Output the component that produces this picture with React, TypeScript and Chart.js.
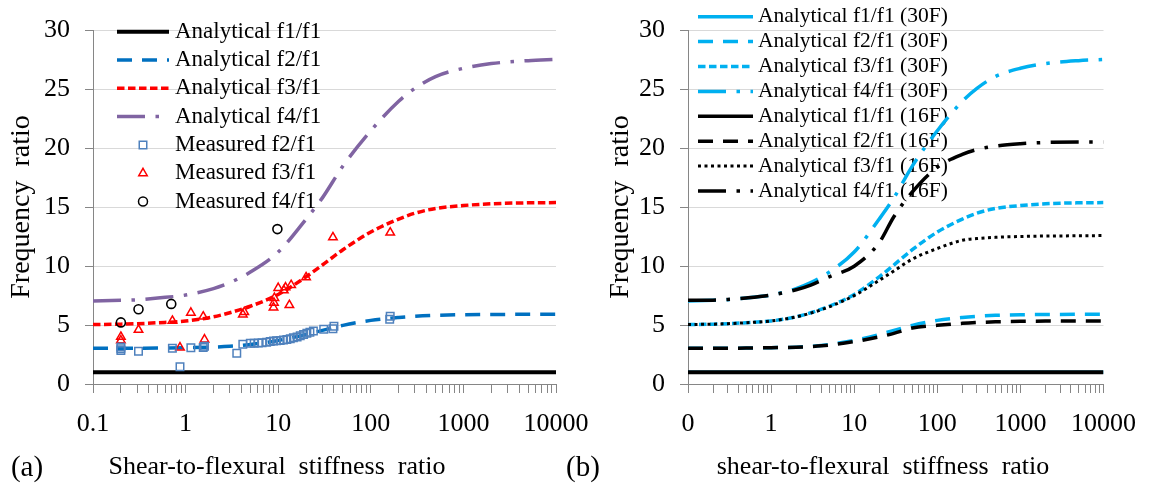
import React, { useEffect, useRef } from 'react';
import { Chart, registerables } from 'chart.js';

Chart.register(...registerables);

const FONT = "'Liberation Serif', 'Times New Roman', serif";

// x grid for the analytical curves (shear-to-flexural stiffness ratio)
const xGrid = [0.1, 0.2, 0.3, 0.5, 1, 2, 3, 5, 10, 20, 30, 50, 100, 200, 300, 500, 1000, 2000, 5000, 10000];

// Analytical curves (30F, also used in panel a)
const f1_30 = [1, 1, 1, 1, 1, 1, 1, 1, 1, 1, 1, 1, 1, 1, 1, 1, 1, 1, 1, 1];
const f2_30 = [3.03, 3.03, 3.04, 3.05, 3.08, 3.13, 3.2, 3.35, 3.7, 4.2, 4.55, 4.98, 5.4, 5.65, 5.75, 5.83, 5.88, 5.9, 5.92, 5.93];
const f3_30 = [5.05, 5.08, 5.12, 5.2, 5.35, 5.7, 6.05, 6.6, 7.6, 9.1, 10.1, 11.4, 12.9, 14.0, 14.5, 14.9, 15.15, 15.3, 15.38, 15.4];
const f4_30 = [7.05, 7.1, 7.15, 7.3, 7.55, 8.1, 8.6, 9.5, 11.2, 14.0, 15.8, 18.5, 21.5, 24.0, 25.1, 26.1, 26.8, 27.2, 27.45, 27.55];

// Analytical curves (16F)
const f1_16 = [1, 1, 1, 1, 1, 1, 1, 1, 1, 1, 1, 1, 1, 1, 1, 1, 1, 1, 1, 1];
const f2_16 = [3.03, 3.03, 3.04, 3.05, 3.08, 3.12, 3.18, 3.3, 3.6, 4.0, 4.3, 4.75, 4.98, 5.15, 5.22, 5.28, 5.32, 5.34, 5.35, 5.35];
const f3_16 = [5.05, 5.08, 5.12, 5.2, 5.35, 5.7, 6.02, 6.55, 7.5, 8.8, 9.6, 10.6, 11.5, 12.2, 12.35, 12.45, 12.52, 12.56, 12.58, 12.6];
const f4_16 = [7.1, 7.12, 7.18, 7.3, 7.55, 8.0, 8.4, 9.1, 10.0, 12.0, 14.2, 16.3, 18.4, 19.5, 19.9, 20.2, 20.4, 20.5, 20.55, 20.55];

// Measured points (panel a)
const m2X = [0.2, 0.2, 0.2, 0.31, 0.72, 0.87, 1.14, 1.55, 1.6, 3.57, 4.15, 5.0, 5.5, 6.1, 6.7, 7.5, 8.2, 8.9, 9.6, 10.5, 11.4, 12.4, 13.5, 14.6, 16, 17.3, 18.8, 20.4, 22, 24, 31, 39, 40, 160, 162];
const m2Y = [2.85, 3.0, 3.15, 2.79, 3.04, 1.47, 3.07, 3.1, 3.2, 2.6, 3.37, 3.45, 3.46, 3.48, 3.5, 3.55, 3.6, 3.64, 3.67, 3.7, 3.74, 3.78, 3.85, 3.92, 4.0, 4.1, 4.2, 4.3, 4.4, 4.5, 4.65, 4.7, 4.9, 5.5, 5.75];
const m3X = [0.2, 0.2, 0.31, 0.72, 0.87, 1.14, 1.55, 1.6, 4.15, 4.3, 8.9, 9.0, 9.1, 10.0, 11.5, 12.0, 13.2, 13.8, 20, 39, 162];
const m3Y = [4.0, 3.7, 4.6, 5.36, 3.1, 6.05, 5.72, 3.78, 5.9, 6.1, 6.5, 6.9, 7.3, 8.15, 7.95, 8.2, 6.7, 8.4, 9.05, 12.45, 12.85];
const m4X = [0.2, 0.31, 0.7, 9.8];
const m4Y = [5.23, 6.35, 6.8, 13.15];

// Axis ticks
const logTickValues = [
  0.1, 0.2, 0.3, 0.4, 0.5, 0.6, 0.7, 0.8, 0.9,
  1, 2, 3, 4, 5, 6, 7, 8, 9,
  10, 20, 30, 40, 50, 60, 70, 80, 90,
  100, 200, 300, 400, 500, 600, 700, 800, 900,
  1000, 2000, 3000, 4000, 5000, 6000, 7000, 8000, 9000,
  10000,
];
const majorTicks = [0.1, 1, 10, 100, 1000, 10000];
const leftTickLabels = ['0.1', '1', '10', '100', '1000', '10000'];
const rightTickLabels = ['0', '1', '10', '100', '1000', '10000'];

const legendLeft = ['Analytical f1/f1', 'Analytical f2/f1', 'Analytical f3/f1', 'Analytical f4/f1', 'Measured f2/f1', 'Measured f3/f1', 'Measured f4/f1'];
const legendRight = [
  'Analytical f1/f1 (30F)', 'Analytical f2/f1 (30F)', 'Analytical f3/f1 (30F)', 'Analytical f4/f1 (30F)',
  'Analytical f1/f1 (16F)', 'Analytical f2/f1 (16F)', 'Analytical f3/f1 (16F)', 'Analytical f4/f1 (16F)',
];

const BLACK = '#000000';
const BLUE = '#0070C0';
const RED = '#FF0000';
const PURPLE = '#8064A2';
const CYAN = '#00B0F0';
const MARK_BLUE = '#4F81BD';

const DASH = [15, 10];
const SHORT = [7.5, 3.5];
const DASHDOT = [28, 10.5, 3.5, 10.5];
const DOT = [3, 3.5];

const pts = (xs: number[], ys: number[]) => xs.map((x, i) => ({ x, y: ys[i] }));

type LegItem = { color: string; width: number; dash?: number[]; marker?: string };

function lineDs(label: string, ys: number[], color: string, width: number, dash: number[], order: number) {
  return {
    label,
    data: pts(xGrid, ys),
    borderColor: color,
    backgroundColor: color,
    borderWidth: width,
    borderDash: dash,
    pointRadius: 0,
    cubicInterpolationMode: 'monotone',
    fill: false,
    order,
  };
}

function markerDs(label: string, xs: number[], ys: number[], color: string, style: string, radius: number, bw: number) {
  return {
    label,
    data: pts(xs, ys),
    showLine: false,
    borderColor: color,
    backgroundColor: 'rgba(0,0,0,0)',
    pointStyle: style,
    pointRadius: radius,
    pointBorderWidth: bw,
    pointBorderColor: color,
    pointBackgroundColor: 'rgba(0,0,0,0)',
    order: 0,
  };
}

function drawMarker(ctx: CanvasRenderingContext2D, kind: string, x: number, y: number, color: string) {
  ctx.save();
  ctx.setLineDash([]);
  ctx.strokeStyle = color;
  ctx.lineWidth = 1.5;
  ctx.beginPath();
  if (kind === 'rect') {
    ctx.rect(x - 3.75, y - 3.75, 7.5, 7.5);
  } else if (kind === 'triangle') {
    const r = 4.9;
    ctx.moveTo(x, y - r);
    ctx.lineTo(x + r * 0.866, y + r / 2);
    ctx.lineTo(x - r * 0.866, y + r / 2);
    ctx.closePath();
  } else {
    ctx.arc(x, y, 4.5, 0, Math.PI * 2);
  }
  ctx.stroke();
  ctx.restore();
}

type Decor = {
  labels: string[];
  items: LegItem[];
  lx0: number; lx1: number; tx: number; ly0: number; ldy: number; lfont: number; mx: number;
  yTitleX: number; yTitleY: number;
  xTitle: string; xTitleX: number; xTitleY: number;
  panels: { text: string; x: number; y: number }[];
};

function makeDecorPlugin(d: Decor) {
  return {
    id: 'decor',
    beforeDatasetsDraw(chart: any) {
      const ctx: CanvasRenderingContext2D = chart.ctx;
      ctx.save();
      d.items.forEach((it, i) => {
        const y = d.ly0 + i * d.ldy;
        if (it.marker) {
          drawMarker(ctx, it.marker, d.mx, y, it.color);
        } else {
          ctx.beginPath();
          ctx.setLineDash(it.dash || []);
          ctx.lineDashOffset = 0;
          ctx.strokeStyle = it.color;
          ctx.lineWidth = it.width;
          ctx.lineCap = 'butt';
          ctx.moveTo(d.lx0, y);
          ctx.lineTo(d.lx1, y);
          ctx.stroke();
        }
        ctx.setLineDash([]);
        ctx.fillStyle = '#000';
        ctx.font = `${d.lfont}px ${FONT}`;
        ctx.textAlign = 'left';
        ctx.textBaseline = 'middle';
        ctx.fillText(d.labels[i], d.tx, y);
      });
      ctx.restore();
    },
    afterDraw(chart: any) {
      const ctx: CanvasRenderingContext2D = chart.ctx;
      ctx.save();
      ctx.fillStyle = '#000';
      ctx.textAlign = 'center';
      ctx.textBaseline = 'middle';
      ctx.font = `28px ${FONT}`;
      ctx.translate(d.yTitleX, d.yTitleY);
      ctx.rotate(-Math.PI / 2);
      ctx.fillText('Frequency  ratio', 0, 0);
      ctx.restore();
      ctx.save();
      ctx.fillStyle = '#000';
      ctx.textAlign = 'center';
      ctx.textBaseline = 'middle';
      ctx.font = `26px ${FONT}`;
      ctx.fillText(d.xTitle, d.xTitleX, d.xTitleY);
      ctx.font = `29px ${FONT}`;
      d.panels.forEach((p) => ctx.fillText(p.text, p.x, p.y));
      ctx.restore();
    },
  };
}

function makeOptions(yWidth: number, padRight: number, tickLabels: string[]) {
  return {
    responsive: false,
    animation: false,
    events: [],
    layout: { padding: { top: 22, right: padRight, left: 0, bottom: 0 } },
    plugins: { legend: { display: false }, tooltip: { enabled: false } },
    scales: {
      x: {
        type: 'logarithmic',
        min: 0.1,
        max: 10000,
        afterBuildTicks: (s: any) => {
          s.ticks = logTickValues.map((v) => ({ value: v }));
        },
        afterFit: (s: any) => {
          s.height = 487 - 384;
        },
        grid: { drawOnChartArea: false, drawTicks: true, tickLength: 9, tickColor: '#868686', tickWidth: 1 },
        border: { display: true, color: '#868686', width: 1 },
        ticks: {
          autoSkip: false,
          maxRotation: 0,
          minRotation: 0,
          padding: 16,
          color: '#000',
          font: { family: FONT, size: 26 },
          callback: (value: number) => {
            const idx = majorTicks.findIndex((m) => Math.abs(Math.log10(m) - Math.log10(value)) < 1e-6);
            return idx >= 0 ? tickLabels[idx] : '';
          },
        },
      },
      y: {
        min: 0,
        max: 30,
        afterFit: (s: any) => {
          s.width = yWidth;
        },
        grid: { color: '#D9D9D9', tickColor: '#868686', tickLength: 8, lineWidth: 1 },
        border: { display: true, color: '#868686', width: 1 },
        ticks: { stepSize: 5, padding: 15, color: '#000', font: { family: FONT, size: 26 } },
      },
    },
  };
}

function LeftChart() {
  const ref = useRef<HTMLCanvasElement>(null);
  useEffect(() => {
    if (!ref.current) return;
    const items: LegItem[] = [
      { color: BLACK, width: 4 },
      { color: BLUE, width: 3.5, dash: DASH },
      { color: RED, width: 3.5, dash: SHORT },
      { color: PURPLE, width: 3.5, dash: DASHDOT },
      { color: MARK_BLUE, width: 1.5, marker: 'rect' },
      { color: RED, width: 1.5, marker: 'triangle' },
      { color: BLACK, width: 1.5, marker: 'circle' },
    ];
    const chart = new Chart(ref.current, {
      type: 'line',
      data: {
        datasets: [
          lineDs(legendLeft[0], f1_30, BLACK, 4, [], 1),
          lineDs(legendLeft[1], f2_30, BLUE, 3.5, DASH, 1),
          lineDs(legendLeft[2], f3_30, RED, 3.5, SHORT, 1),
          lineDs(legendLeft[3], f4_30, PURPLE, 3.5, DASHDOT, 1),
          markerDs(legendLeft[4], m2X, m2Y, MARK_BLUE, 'rect', 5.3, 1.5),
          markerDs(legendLeft[5], m3X, m3Y, RED, 'triangle', 4.9, 1.5),
          markerDs(legendLeft[6], m4X, m4Y, BLACK, 'circle', 4.5, 1.6),
        ] as any,
      },
      options: makeOptions(93, 620 - 556, leftTickLabels) as any,
      plugins: [
        makeDecorPlugin({
          labels: legendLeft,
          items,
          lx0: 117, lx1: 169, tx: 175, ly0: 31.7, ldy: 28.3, lfont: 23, mx: 143,
          yTitleX: 22, yTitleY: 207,
          xTitle: 'Shear-to-flexural  stiffness  ratio', xTitleX: 277, xTitleY: 467,
          panels: [
            { text: '(a)', x: 27, y: 468 },
            { text: '(b)', x: 583, y: 468 },
          ],
        }) as any,
      ],
    });
    return () => chart.destroy();
  }, []);
  return (
    <canvas
      ref={ref}
      width={620}
      height={487}
      style={{ position: 'absolute', left: 0, top: 0, width: 620, height: 487 }}
    />
  );
}

function RightChart() {
  const ref = useRef<HTMLCanvasElement>(null);
  useEffect(() => {
    if (!ref.current) return;
    const items: LegItem[] = [
      { color: CYAN, width: 3.5 },
      { color: CYAN, width: 3.5, dash: DASH },
      { color: CYAN, width: 3.5, dash: SHORT },
      { color: CYAN, width: 3.5, dash: DASHDOT },
      { color: BLACK, width: 3.5 },
      { color: BLACK, width: 3.5, dash: DASH },
      { color: BLACK, width: 3, dash: DOT },
      { color: BLACK, width: 3.5, dash: DASHDOT },
    ];
    const chart = new Chart(ref.current, {
      type: 'line',
      data: {
        datasets: [
          lineDs(legendRight[0], f1_30, CYAN, 3.5, [], 1),
          lineDs(legendRight[1], f2_30, CYAN, 3.5, DASH, 1),
          lineDs(legendRight[2], f3_30, CYAN, 3.5, SHORT, 1),
          lineDs(legendRight[3], f4_30, CYAN, 3.5, DASHDOT, 1),
          lineDs(legendRight[4], f1_16, BLACK, 4, [], 0),
          lineDs(legendRight[5], f2_16, BLACK, 3.5, DASH, 0),
          lineDs(legendRight[6], f3_16, BLACK, 3, DOT, 0),
          lineDs(legendRight[7], f4_16, BLACK, 3.5, DASHDOT, 0),
        ] as any,
      },
      options: makeOptions(688 - 576, 1152 - 1107, rightTickLabels) as any,
      plugins: [
        makeDecorPlugin({
          labels: legendRight,
          items,
          lx0: 122, lx1: 177, tx: 182, ly0: 16.7, ldy: 24.9, lfont: 21.5, mx: 150,
          yTitleX: 621 - 576, yTitleY: 207,
          xTitle: 'shear-to-flexural  stiffness  ratio', xTitleX: 883 - 576, xTitleY: 467,
          panels: [],
        }) as any,
      ],
    });
    return () => chart.destroy();
  }, []);
  return (
    <canvas
      ref={ref}
      width={576}
      height={487}
      style={{ position: 'absolute', left: 576, top: 0, width: 576, height: 487 }}
    />
  );
}

export default function App() {
  return (
    <div style={{ position: 'absolute', left: 0, top: 0, width: 1152, height: 487, background: '#fff', overflow: 'hidden' }}>
      <LeftChart />
      <RightChart />
    </div>
  );
}
